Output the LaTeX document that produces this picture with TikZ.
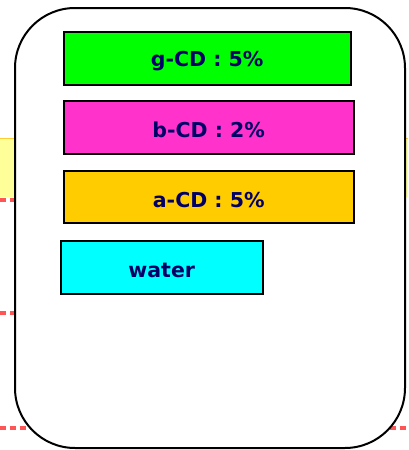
\documentclass[tikz,border=0pt]{standalone}
\usepackage{fontspec}
\setmainfont{DejaVu Sans}
\definecolor{labelnavy}{HTML}{000066}
\definecolor{bandyellow}{HTML}{FFFF99}
\definecolor{bandedge}{HTML}{FFCC33}
\definecolor{dashred}{HTML}{FF5555}
\definecolor{gcd}{HTML}{00FF00}
\definecolor{bcd}{HTML}{FF33CC}
\definecolor{acd}{HTML}{FFCC00}
\definecolor{wat}{HTML}{00FFFF}
\tikzset{
  cdbox/.style={draw=black, line width=1.5pt, anchor=north west, inner sep=0pt},
  cdlabel/.style={font=\bfseries\fontsize{20.5}{20.5}\selectfont, text=labelnavy, inner sep=0pt},
  redline/.style={draw=dashred, line width=4pt, dash pattern=on 6pt off 4pt},
}
\begin{document}
\begin{tikzpicture}[x=1pt,y=-1pt]
\useasboundingbox (0,0) rectangle (408,450);
% background band and dashed guide lines
\fill[bandyellow] (0,138) rectangle (408,197);
\draw[bandedge, line width=0.8pt] (0,138) -- (408,138);
\draw[redline] (0,200) -- (408,200);
\draw[redline] (0,313) -- (408,313);
\draw[redline] (0,428) -- (408,428);
% main rounded frame
\draw[fill=white, line width=2pt, rounded corners=60pt] (15,8) rectangle (405,448);
% composition boxes
\node[cdbox, fill=gcd, minimum width=287pt, minimum height=53pt] (g) at (63,31) {};
\node[cdlabel] (gl) at ([yshift=-3pt]g.center) {g-CD : 5\%};
\node[cdbox, fill=bcd, minimum width=290pt, minimum height=53pt] (b) at (63,100) {};
\node[cdlabel] (bl) at ([yshift=-3pt]b.center) {b-CD : 2\%};
\node[cdbox, fill=acd, minimum width=290pt, minimum height=52pt] (a) at (63,170) {};
\node[cdlabel] (al) at ([yshift=-3pt]a.center) {a-CD : 5\%};
\node[cdbox, fill=wat, minimum width=202pt, minimum height=53pt] (w) at (60,240) {};
\node[cdlabel] (wl) at ([yshift=-3pt]w.center) {water};
\end{tikzpicture}
\end{document}
